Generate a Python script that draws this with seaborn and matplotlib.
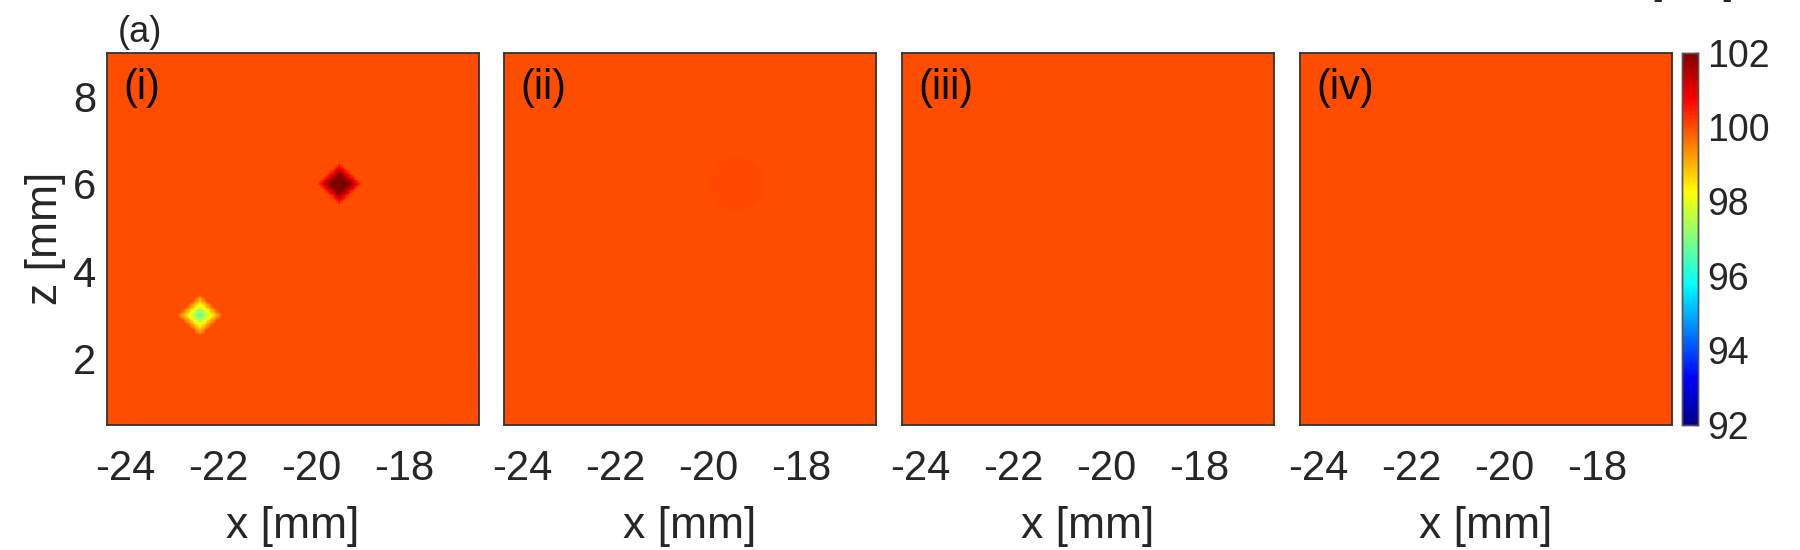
import numpy as np
import pandas as pd
import matplotlib
matplotlib.use('Agg')
import matplotlib.pyplot as plt
from matplotlib.colors import LinearSegmentedColormap
import seaborn as sns

# axes extents and ticks (mm)
x_range = [-24.4, -16.4]
z_range = [0.5, 9.0]
x_ticks = [-24, -22, -20, -18]
z_ticks = [2, 4, 6, 8]

# colour scale
c_min, c_max = 92, 102
cbar_ticks = [92, 94, 96, 98, 100, 102]

background = 100.0
panel_names = ['(i)', '(ii)', '(iii)', '(iv)']

# inclusions: which panel, centre, extreme value, half size, shape
inc_panel = [0, 0, 1]
inc_x = [-22.4, -19.4, -19.4]
inc_z = [3.0, 6.0, 6.0]
inc_value = [96.5, 103.5, 100.04]
inc_size = [0.5, 0.5, 0.6]
inc_shape = ['diamond', 'diamond', 'disc']

n = 300  # grid cells per side

sns.set_theme(style='white')
plt.rcParams['font.family'] = ['Liberation Sans', 'DejaVu Sans']
dark = '#262626'

# matlab-like jet
jet = LinearSegmentedColormap('mjet', {
    'red':   [(0, 0, 0), (0.375, 0, 0), (0.625, 1, 1), (0.875, 1, 1), (1, 0.5, 0.5)],
    'green': [(0, 0, 0), (0.125, 0, 0), (0.375, 1, 1), (0.625, 1, 1), (0.875, 0, 0), (1, 0, 0)],
    'blue':  [(0, 0.55, 0.55), (0.125, 1, 1), (0.375, 1, 1), (0.625, 0, 0), (1, 0, 0)],
}, N=256)

x0, x1 = x_range
z0, z1 = z_range
xs = x0 + (np.arange(n) + 0.5) * (x1 - x0) / n
zs = z1 - (np.arange(n) + 0.5) * (z1 - z0) / n   # top row first


def panel_frame(k):
    X, Z = np.meshgrid(xs, zs)
    F = np.full(X.shape, background)
    for p, cx, cz, v, s, sh in zip(inc_panel, inc_x, inc_z, inc_value, inc_size, inc_shape):
        if p != k:
            continue
        if sh == 'diamond':
            w = np.clip(1 - (np.abs(X - cx) + np.abs(Z - cz)) / s, 0, 1)
        else:
            w = (np.hypot(X - cx, Z - cz) <= s).astype(float)
        F += (v - background) * w
    return pd.DataFrame(F, index=np.round(zs, 4), columns=np.round(xs, 4))


fig = plt.figure(figsize=(18, 5.5), dpi=100)
W, H = 1800, 550
lefts = [107, 504, 902, 1300]
bot = 1 - 424.5 / H
hgt = 372 / H
cax = fig.add_axes([1682 / W, bot, 16 / W, hgt])

for k, name in enumerate(panel_names):
    ax = fig.add_axes([lefts[k] / W, bot, 372 / W, hgt])
    last = k == len(panel_names) - 1
    sns.heatmap(panel_frame(k), ax=ax, cmap=jet, vmin=c_min, vmax=c_max,
                cbar=last, cbar_ax=cax if last else None,
                cbar_kws={'ticks': cbar_ticks} if last else None,
                xticklabels=False, yticklabels=False)
    ax.set_xticks([(t - x0) / (x1 - x0) * n for t in x_ticks])
    ax.set_xticklabels([str(t) for t in x_ticks], rotation=0)
    ax.set_yticks([(z1 - t) / (z1 - z0) * n for t in z_ticks])
    if k == 0:
        ax.set_yticklabels([str(t) for t in z_ticks], rotation=0)
        ax.set_ylabel('z [mm]', fontsize=32, color=dark, labelpad=5)
    else:
        ax.set_yticklabels([])
        ax.set_ylabel('')
    ax.set_xlabel('x [mm]', fontsize=32, color=dark, labelpad=12)
    ax.tick_params(axis='both', direction='in', length=4, width=1, color=dark,
                   labelcolor=dark, labelsize=30,
                   bottom=True, top=True, left=True, right=True)
    ax.tick_params(axis='x', pad=18)
    ax.tick_params(axis='y', pad=8)
    for sp in ax.spines.values():
        sp.set_visible(True)
        sp.set_color('#333333')
        sp.set_linewidth(1.3)
    ax.text(0.045, 0.874, name, transform=ax.transAxes, fontsize=30,
            color='black', ha='left', va='baseline')

cax.tick_params(direction='in', length=3, width=1, color=dark, labelcolor=dark,
                labelsize=27, pad=6.5, right=True)
for sp in cax.spines.values():
    sp.set_visible(True)
    sp.set_color('#555555')
    sp.set_linewidth(1.0)
cax.set_ylim(c_min, c_max)

fig.text(118 / W, 1 - 41.6 / H, '(a)', fontsize=26, color=dark, ha='left', va='baseline')
# bottom of a cut-off label above the colorbar
fig.text(1651 / W, 1 + 5.5 / H, '[kPa]', fontsize=26, color=dark, ha='left', va='baseline')

fig.savefig('out.png', dpi=100)
